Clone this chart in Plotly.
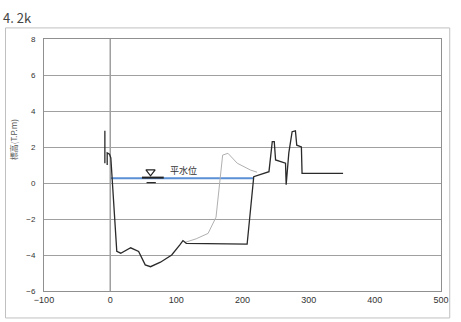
import plotly.graph_objects as go

# Current cross-section profile (distance m, elevation T.P.m)
cur_x = [-8, -8, None, -4.5, -4.5, -1, 1, 10, 16, 31, 43, 53, 61, 76, 93, 105, 110, 115, 207, 217, 240, 245, 248, 250, 265, 266, 270, 275, 280, 282, 289, 290, 352]
cur_y = [2.9, 1.1, None, 1.0, 1.67, 1.6, 1.4, -3.8, -3.9, -3.6, -3.8, -4.55, -4.65, -4.4, -4.0, -3.45, -3.2, -3.35, -3.4, 0.35, 0.63, 2.3, 2.3, 1.28, 1.1, -0.1, 1.67, 2.85, 2.9, 2.1, 2.0, 0.53, 0.53]

# Previous profile (light gray)
old_x = [113, 130, 148, 160, 170, 178, 192, 212, 222]
old_y = [-3.3, -3.1, -2.8, -1.9, 1.55, 1.65, 1.1, 0.72, 0.6]

# Mean water level
wl_x = [1, 217]
wl_y = [0.26, 0.26]
wl_label = "平水位"
wl_mark_x = 61

x_ticks = [-100, 0, 100, 200, 300, 400, 500]
y_ticks = [-6, -4, -2, 0, 2, 4, 6, 8]

fig = go.Figure()
fig.add_trace(go.Scatter(x=wl_x, y=wl_y, mode="lines",
                         line=dict(color="#5b8fd6", width=2), hoverinfo="skip"))
fig.add_trace(go.Scatter(x=old_x, y=old_y, mode="lines",
                         line=dict(color="#b0b0b0", width=1), hoverinfo="skip"))
fig.add_trace(go.Scatter(x=cur_x, y=cur_y, mode="lines",
                         line=dict(color="#2a2a2a", width=1.3), hoverinfo="skip"))
# water level symbol
fig.add_trace(go.Scatter(x=[wl_mark_x], y=[0.62], mode="markers",
                         marker=dict(symbol="triangle-down-open", size=8,
                                     color="#222", line=dict(width=1.2, color="#222")),
                         hoverinfo="skip"))
fig.add_trace(go.Scatter(x=[48, 81], y=[0.3, 0.3], mode="lines",
                         line=dict(color="#222", width=2), hoverinfo="skip"))
fig.add_trace(go.Scatter(x=[55, 69], y=[0.02, 0.02], mode="lines",
                         line=dict(color="#222", width=1.2), hoverinfo="skip"))

fig.add_annotation(x=wl_mark_x + 26, y=0.7, text=wl_label, showarrow=False,
                   xanchor="left", yanchor="middle",
                   font=dict(family="Noto Sans CJK JP", size=9, color="#333"))

# outer frame
fig.add_shape(type="rect", xref="paper", yref="paper",
              x0=-0.097, x1=1.022, y0=-0.107, y1=1.044,
              line=dict(color="#c0c0c0", width=1), layer="above")
# x = 0 line
fig.add_shape(type="line", xref="x", yref="paper", x0=0, x1=0, y0=0, y1=1,
              line=dict(color="#707070", width=1), layer="below")

fig.add_annotation(xref="paper", yref="paper", x=-0.109, y=1.087, text="4. 2k",
                   showarrow=False, xanchor="left", yanchor="middle",
                   font=dict(family="Noto Sans CJK JP", size=13, color="#444"))
fig.add_annotation(xref="paper", yref="paper", x=-0.077, y=0.6, text="標高(T.P.m)",
                   textangle=-90, showarrow=False, xanchor="center", yanchor="middle",
                   font=dict(family="Noto Sans CJK JP", size=8, color="#555"))

fig.update_layout(
    width=461, height=322,
    margin=dict(l=44, r=15, t=39, b=31),
    paper_bgcolor="white", plot_bgcolor="white",
    showlegend=False,
    xaxis=dict(range=[-100, 500], tickvals=x_ticks, showgrid=False, zeroline=False,
               showline=True, linecolor="#909090", mirror=True, ticks="",
               tickfont=dict(family="Liberation Sans", size=9, color="#333")),
    yaxis=dict(range=[-6, 8], tickvals=y_ticks, showgrid=True, gridcolor="#a0a0a0",
               gridwidth=1, zeroline=False, showline=True, linecolor="#909090", mirror=True,
               ticks="", tickfont=dict(family="Liberation Sans", size=8, color="#333"),
               ticklabelstandoff=6),
)

fig.write_html("out.html", config={"displayModeBar": False},
               post_script="document.body.style.margin='0';")
